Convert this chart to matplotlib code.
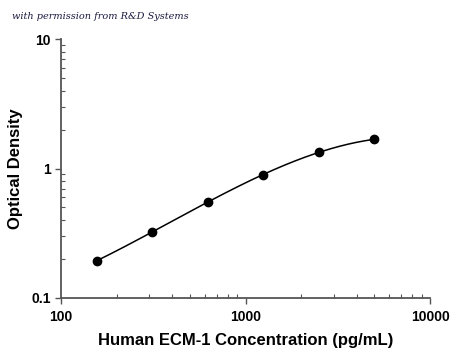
import numpy as np
import matplotlib.pyplot as plt

plt.rcParams['font.family'] = ['Liberation Sans', 'DejaVu Sans']

concentracao = [156.25, 312.5, 625, 1250, 2500, 5000]
densidade = [0.194, 0.323, 0.555, 0.893, 1.34, 1.68]

# curva suave ajustada em escala log-log
lx = np.log10(concentracao)
ly = np.log10(densidade)
coef = np.polyfit(lx, ly, 3)
xs = np.linspace(lx[0], lx[-1], 200)
ys = np.polyval(coef, xs)

fig = plt.figure(figsize=(4.5, 3.55), dpi=100)
ax = fig.add_axes([0.1356, 0.1606, 0.82, 0.7294])

ax.plot(10**xs, 10**ys, color='black', lw=1.1)
ax.plot(concentracao, densidade, 'o', color='black', markersize=6)

ax.set_xscale('log')
ax.set_yscale('log')
ax.set_xlim(100, 10000)
ax.set_ylim(0.1, 10)
ax.set_xticks([100, 1000, 10000])
ax.set_xticklabels(['100', '1000', '10000'])
ax.set_yticks([0.1, 1, 10])
ax.set_yticklabels(['0.1', '1', '10'])

for s in ['top', 'right']:
    ax.spines[s].set_visible(False)
for s in ['left', 'bottom']:
    ax.spines[s].set_color('#555555')
    ax.spines[s].set_linewidth(1.3)

ax.tick_params(which='major', direction='out', length=4, width=1, color='#555555',
               labelsize=10)
ax.tick_params(which='minor', direction='in', length=3, width=0.8, color='#555555')
for lab in ax.get_xticklabels() + ax.get_yticklabels():
    lab.set_fontweight('bold')
ax.tick_params(axis='x', pad=5)

ax.set_xlabel('Human ECM-1 Concentration (pg/mL)', fontsize=12, fontweight='bold', labelpad=6)
ax.set_ylabel('Optical Density', fontsize=12, fontweight='bold', labelpad=6)

fig.text(0.027, 0.953, 'with permission from R&D Systems', fontsize=7,
         fontstyle='italic', family='DejaVu Serif', color='#1a1a40', va='center')

fig.savefig('out.png', dpi=100)
